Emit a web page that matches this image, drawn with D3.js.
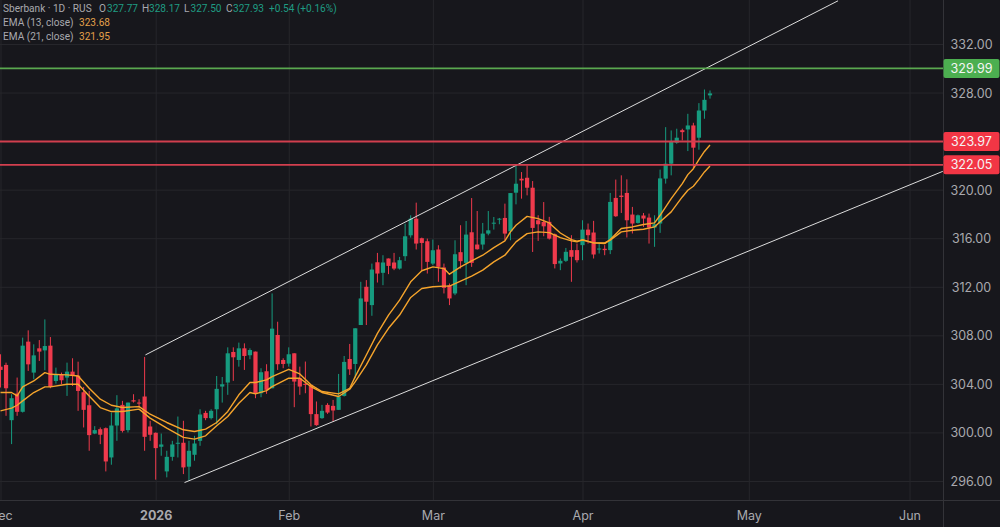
<!DOCTYPE html>
<html>
<head>
<meta charset="utf-8">
<title>Sberbank 1D</title>
<script src="https://cdn.jsdelivr.net/npm/d3@7"></script>
<style>
    html, body { margin: 0; padding: 0; background: #17171c; overflow: hidden; }
    svg { display: block; font-family: Inter, "Noto Sans", sans-serif; }
    .grid line { stroke: #26262b; stroke-width: 1; }
    .axis path.domain { display: none; }
    .axis text { fill: #a9a9ae; font-size: 12.5px; font-family: Inter, sans-serif; }
    .legend text { font-size: 10.1px; font-family: Roboto, sans-serif; }
</style>
</head>
<body>
<div id="chart"></div>
<script>
// candles, one per bar
var candleOpen = [
    305.42,305.56,301.01,303.20,301.70,307.48,304.93,306.93,306.76,307.15,
    304.24,304.74,304.52,305.01,304.68,303.31,302.24,299.91,300.27,300.35,
    297.94,300.57,302.27,300.19,302.65,302.46,302.96,300.49,299.97,298.82,
    296.79,297.99,299.09,299.15,297.18,298.16,299.31,301.61,301.18,301.91,
    303.78,304.11,306.63,305.97,306.93,306.36,306.66,303.23,305.04,303.64,
    308.03,305.97,305.67,306.52,304.46,304.00,303.92,301.51,301.18,302.27,
    302.19,301.86,303.01,306.05,305.64,308.85,312.00,310.49,314.02,313.15,
    314.33,314.00,313.50,314.52,316.24,317.61,316.00,315.75,313.91,315.07,
    313.59,312.13,311.45,314.85,313.97,316.49,315.48,315.48,316.38,317.20,
    317.53,317.67,316.57,319.75,320.90,320.98,320.16,317.48,317.34,317.35,
    316.33,313.92,314.14,315.02,315.02,315.43,316.71,316.47,315.07,315.13,
    315.02,319.32,319.51,319.73,317.95,317.26,317.87,317.70,316.88,317.21,
    320.91,322.14,323.87,324.90,324.96,325.29,324.28,326.52,327.77];
var candleHigh = [
    306.44,305.75,303.15,304.52,307.81,308.41,307.26,307.61,309.31,307.86,
    305.34,304.93,305.75,306.11,305.83,303.75,303.42,300.52,300.41,300.41,
    301.64,303.07,302.60,302.46,303.15,302.74,306.22,300.96,300.00,299.91,
    298.49,299.31,301.31,300.96,299.31,299.72,301.91,301.78,301.91,304.65,
    304.57,307.01,307.01,307.40,307.34,306.93,306.66,305.29,305.62,311.45,
    309.12,306.11,307.01,306.52,305.42,305.84,303.92,302.55,302.27,302.41,
    302.68,304.82,306.30,307.29,308.58,312.41,312.55,313.91,314.79,314.60,
    314.33,314.79,314.46,317.20,317.89,318.93,316.05,315.97,315.89,315.42,
    313.91,312.27,315.83,317.07,317.42,319.31,318.24,317.26,318.24,317.75,
    317.67,318.85,319.72,321.99,321.45,321.99,320.71,317.89,318.98,317.76,
    316.39,314.33,315.20,316.25,315.56,317.48,317.21,317.43,315.56,315.43,
    319.73,320.83,321.18,320.85,318.58,317.95,318.08,318.03,317.89,321.65,
    325.15,324.88,325.02,325.02,326.25,325.51,327.13,328.25,328.17];
var candleLow = [
    303.70,301.37,299.04,301.37,301.64,305.07,304.38,305.89,305.12,303.64,
    304.02,303.97,303.01,303.83,301.78,300.41,298.49,299.86,299.04,296.79,
    297.34,299.31,300.00,300.00,302.46,302.05,298.49,299.31,296.11,298.08,
    296.30,297.67,297.94,296.57,296.02,297.67,298.90,301.01,301.07,300.68,
    302.46,303.10,304.25,305.42,305.15,306.03,302.82,302.90,303.18,303.64,
    305.15,305.29,305.42,302.08,303.10,303.23,300.49,300.55,301.12,301.53,
    300.90,301.86,302.96,304.74,304.47,308.85,308.85,309.61,312.35,312.13,
    313.04,313.37,313.42,314.13,316.05,315.07,313.37,313.09,313.78,312.41,
    311.45,310.49,311.31,313.50,312.13,313.64,315.06,315.06,316.24,316.71,
    317.15,315.83,315.83,318.79,319.26,319.53,314.87,315.78,316.16,315.89,
    313.51,313.37,314.05,312.41,314.00,314.19,315.56,314.33,314.74,314.60,
    314.69,317.76,318.08,316.06,316.39,317.21,316.93,315.56,315.29,316.44,
    320.50,321.18,323.78,324.06,323.18,321.73,323.29,325.84,327.50];
var candleClose = [
    305.15,303.64,302.82,301.70,307.15,305.61,306.35,306.66,307.12,303.75,
    304.74,304.30,305.01,304.65,303.42,301.86,299.78,300.19,299.81,297.61,
    300.57,301.98,300.13,302.46,302.55,302.38,299.64,299.81,298.71,299.01,
    297.99,299.01,299.15,297.12,298.49,299.09,301.48,301.18,301.78,303.59,
    303.97,306.52,306.19,306.93,306.30,306.79,303.18,304.96,303.51,308.55,
    305.62,305.64,306.44,304.19,303.78,303.92,301.51,300.60,301.78,301.64,
    301.81,302.96,305.81,305.20,308.58,311.04,310.77,313.42,313.09,314.00,
    313.72,313.50,314.19,316.16,317.61,315.56,315.61,314.05,315.01,313.64,
    311.91,311.04,314.68,314.11,316.30,313.97,315.09,316.38,316.65,317.28,
    317.61,316.38,319.72,320.49,320.76,320.16,316.85,317.15,316.98,315.97,
    313.87,314.14,314.88,314.47,314.19,316.71,316.25,314.66,315.15,315.02,
    318.99,317.81,319.40,317.48,317.21,317.89,317.62,316.88,317.15,320.93,
    322.14,324.00,324.28,324.74,325.29,323.46,326.52,327.40,327.93];

// EMA lines, read at these bars
var emaBars = [0,2,3,4,6,8,9,12,14,16,18,20,22,25,27,30,33,35,37,39,41,43,45,46,48,49,52,54,56,58,61,63,64,66,68,70,72,74,76,78,80,81,83,85,87,89,91,92,93,95,97,99,101,103,104,105,107,109,110,112,114,116,118,119,121,123,124,125,126,127,128];
var ema13 = [303.29,303.29,303.01,303.75,304.24,304.93,304.79,304.74,304.65,303.64,302.74,302.24,302.05,302.13,301.50,300.82,300.22,300.08,300.27,300.82,301.73,303.10,304.11,304.11,304.33,304.60,305.20,304.82,303.92,303.37,303.18,303.64,304.60,306.38,308.16,309.67,310.90,312.41,313.32,313.64,313.50,313.04,313.64,314.13,314.60,315.23,315.78,316.52,317.07,317.80,317.61,317.26,316.43,315.89,315.76,315.84,315.62,315.56,315.89,316.80,316.93,317.13,317.26,317.89,319.26,320.50,321.24,321.73,322.47,323.15,323.68];
var ema21 = [301.78,302.00,302.24,302.60,303.29,303.75,303.75,303.97,303.97,303.01,302.05,301.72,301.72,301.92,301.18,300.35,299.59,299.45,299.72,300.55,301.31,302.41,303.29,303.18,303.45,303.78,304.47,304.47,303.78,303.29,302.96,303.56,304.19,305.56,307.21,308.58,309.67,311.12,311.86,312.00,312.05,312.05,312.46,312.87,313.37,314.05,314.60,315.15,315.70,316.38,316.52,316.46,316.05,315.78,315.70,315.89,315.62,315.62,315.84,316.52,316.66,316.74,316.93,317.35,318.17,319.40,319.95,320.28,320.85,321.46,321.95];

// price levels and their tags
var levelPrices = [329.99, 323.97, 322.05];
var levelColors = ["#4caf50", "#f23645", "#f23645"];
var levelStrokes = ["#5aa84f", "#d23f4e", "#d23f4e"];

// channel lines as [bar, price] ends
var channelUpper = [[26.15, 306.39], [151.1, 335.56]];
var channelLower = [[33.2, 295.87], [170.0, 321.51]];

// axis ticks
var priceTicks = [296, 300, 304, 308, 312, 316, 320, 324, 328, 332];
var monthBars = [0, 28, 52, 78, 105, 135, 164];
var monthLabels = ["Dec", "2026", "Feb", "Mar", "Apr", "May", "Jun"];

var emaNames = ["EMA (13, close)", "EMA (21, close)"];
var emaLast = ["323.68", "321.95"];

var w = 1000, h = 527;
var plotRight = 943, plotBottom = 500;
var upColor = "#169b7f", downColor = "#ef3a4c", emaColor = "#f5a42c";

var svg = d3.select("#chart").append("svg")
    .attr("width", w)
    .attr("height", h);

var x = d3.scaleLinear().domain([0, 128]).range([0.5, 710]);
var y = d3.scaleLinear().domain([296, 332]).range([481, 44]);

svg.append("defs").append("clipPath").attr("id", "plot")
    .append("rect").attr("width", plotRight).attr("height", plotBottom);

// grid comes from the axes, long ticks
var yAxis = svg.append("g")
    .attr("class", "axis grid")
    .attr("transform", "translate(" + plotRight + ",0)")
    .call(d3.axisRight(y).tickValues(priceTicks).tickSize(-plotRight).tickFormat(d3.format(".2f")));
yAxis.selectAll("text").attr("x", 28.5).attr("dy", "0.36em").style("text-anchor", "middle");

var xAxis = svg.append("g")
    .attr("class", "axis grid")
    .attr("transform", "translate(0," + plotBottom + ")")
    .call(d3.axisBottom(x).tickValues(monthBars).tickSize(-plotBottom)
        .tickFormat(function (d, i) { return monthLabels[i]; }));
xAxis.selectAll("text").attr("y", 15).attr("dy", "0.36em")
    .style("font-weight", function (d, i) { return monthLabels[i] === "2026" ? 700 : 400; });

// axis borders
svg.append("line").attr("x1", plotRight + 0.5).attr("x2", plotRight + 0.5).attr("y1", 0).attr("y2", h)
    .attr("stroke", "#333338");
svg.append("line").attr("x1", 0).attr("x2", w).attr("y1", plotBottom + 0.5).attr("y2", plotBottom + 0.5)
    .attr("stroke", "#333338");

var plot = svg.append("g").attr("clip-path", "url(#plot)");

// candles
var candle = plot.selectAll(".candle")
    .data(candleOpen)
    .enter()
    .append("g")
    .attr("class", "candle")
    .attr("fill", function (d, i) { return candleClose[i] >= d ? upColor : downColor; })
    .attr("stroke", function (d, i) { return candleClose[i] >= d ? upColor : downColor; });

candle.append("line")
    .attr("x1", function (d, i) { return x(i); })
    .attr("x2", function (d, i) { return x(i); })
    .attr("y1", function (d, i) { return y(candleHigh[i]); })
    .attr("y2", function (d, i) { return y(candleLow[i]); })
    .attr("stroke-width", 1);

candle.append("rect")
    .attr("stroke", "none")
    .attr("x", function (d, i) { return x(i) - 2.1; })
    .attr("width", 4.2)
    .attr("y", function (d, i) { return y(Math.max(d, candleClose[i])); })
    .attr("height", function (d, i) { return Math.max(1, Math.abs(y(d) - y(candleClose[i]))); });

// EMA lines
var emaLine = d3.line()
    .x(function (d) { return x(d[0]); })
    .y(function (d) { return y(d[1]); });

[ema13, ema21].forEach(function (series) {
    plot.append("path")
        .datum(emaBars.map(function (b, i) { return [b, series[i]]; }))
        .attr("fill", "none")
        .attr("stroke", emaColor)
        .attr("stroke-width", 1.4)
        .attr("stroke-linejoin", "round")
        .attr("d", emaLine);
});

// channel
[channelUpper, channelLower].forEach(function (c) {
    plot.append("line")
        .attr("x1", x(c[0][0])).attr("y1", y(c[0][1]))
        .attr("x2", x(c[1][0])).attr("y2", y(c[1][1]))
        .attr("stroke", "#dcdcdc")
        .attr("stroke-width", 1);
});

// horizontal levels
plot.selectAll(".level")
    .data(levelPrices)
    .enter()
    .append("line")
    .attr("class", "level")
    .attr("x1", 0)
    .attr("x2", plotRight)
    .attr("y1", function (d) { return y(d); })
    .attr("y2", function (d) { return y(d); })
    .attr("stroke", function (d, i) { return levelStrokes[i]; })
    .attr("stroke-width", 1.8);

// price tags on the axis
var tag = svg.selectAll(".tag")
    .data(levelPrices)
    .enter()
    .append("g")
    .attr("class", "tag")
    .attr("transform", function (d) { return "translate(" + (plotRight + 0.5) + "," + y(d) + ")"; });

tag.append("rect")
    .attr("x", 0)
    .attr("y", -9.5)
    .attr("width", 56)
    .attr("height", 19)
    .attr("rx", 2)
    .attr("fill", function (d, i) { return levelColors[i]; });

tag.append("text")
    .attr("x", 28)
    .attr("dy", "0.36em")
    .attr("text-anchor", "middle")
    .attr("fill", "#f4f4f4")
    .style("font-size", "12.5px")
    .text(function (d) { return d.toFixed(2); });

// legend, top left
var legend = svg.append("g").attr("class", "legend");
var teal = "#1f9c83", gray = "#a9a9ae";

[
    ["Sberbank · 1D · RUS", 3, gray],
    ["O", 99, gray], ["327.77", 107, teal],
    ["H", 142, gray], ["328.17", 149, teal],
    ["L", 184, gray], ["327.50", 190.5, teal],
    ["C", 226, gray], ["327.93", 233, teal],
    ["+0.54 (+0.16%)", 269, teal]
].forEach(function (t) {
    legend.append("text").attr("x", t[1]).attr("y", 12).attr("fill", t[2]).text(t[0]);
});

emaNames.forEach(function (name, i) {
    var ly = 26 + i * 13.5;
    legend.append("text").attr("x", 3).attr("y", ly).attr("fill", gray).text(name);
    legend.append("text").attr("x", 79).attr("y", ly).attr("fill", "#e3a04a").text(emaLast[i]);
});
</script>
</body>
</html>
